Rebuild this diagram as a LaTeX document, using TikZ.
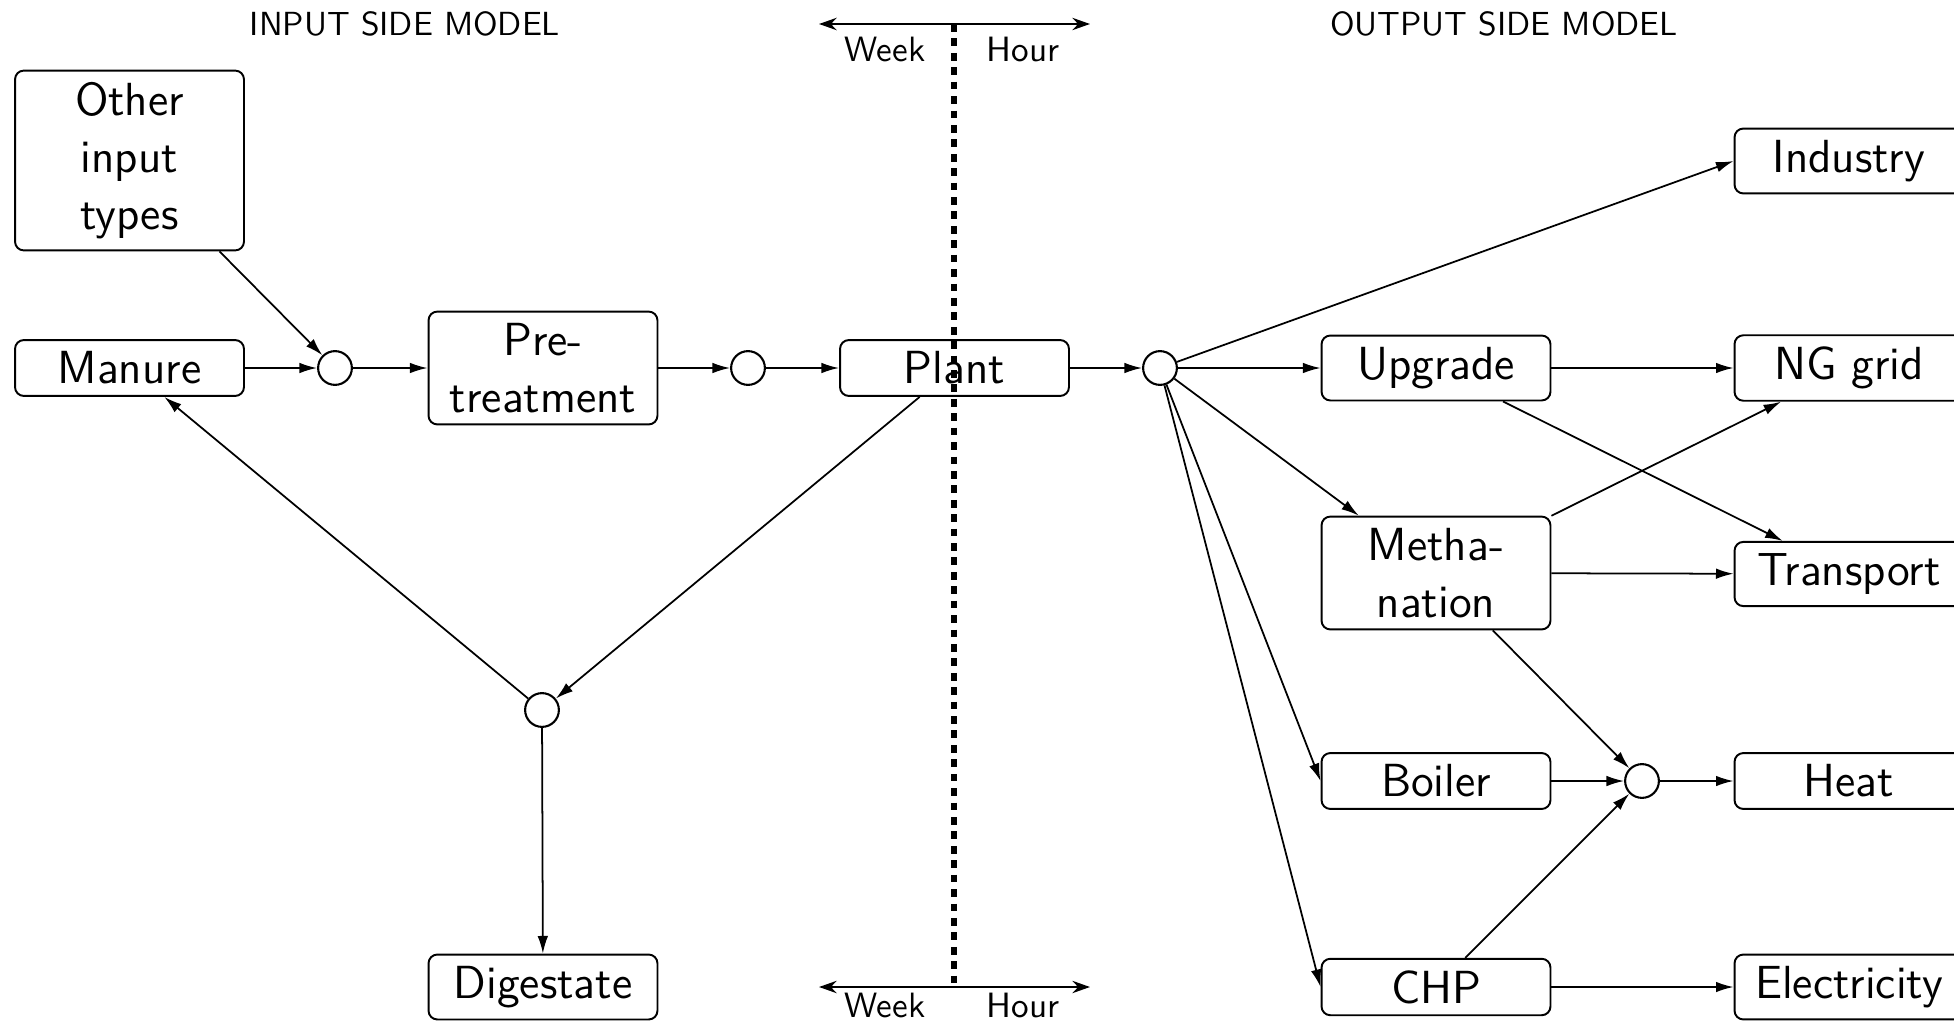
\documentclass[tikz,border=0pt]{standalone}
\usepackage{fontspec}
\usetikzlibrary{arrows.meta}
\begin{document}
\begin{tikzpicture}[x=0.01cm,y=-0.01cm,
  mainfont/.style={font=\sffamily\fontsize{13.2}{16.2}\selectfont},
  box/.style={draw,line width=0.55pt,rounded corners=2.5pt,minimum width=65.1pt,inner sep=3.3pt,align=center,mainfont},
  junction/.style={draw,circle,line width=0.6pt,minimum size=9.6pt,inner sep=0pt},
  conn/.style={line width=0.5pt,-{Latex[length=5pt,width=3pt]}},
  timearrow/.style={line width=0.6pt,{Stealth[length=5pt,width=3.5pt]}-{Stealth[length=5pt,width=3.5pt]}},
  divider/.style={line width=1.9pt,dash pattern=on 2.2pt off 1.9pt},
  smalllabel/.style={font=\sffamily\fontsize{10}{12}\selectfont,inner sep=0pt},
  header/.style={font=\sffamily\fontsize{9.5}{11}\selectfont,inner sep=0pt}]
\useasboundingbox (0,0) rectangle (1954,1021);
\clip (0,0) rectangle (1954,1021);

% headers
\node[header] (hin) at (405,24) {INPUT SIDE MODEL};
\node[header] (hout) at (1504,24) {OUTPUT SIDE MODEL};

% input side
\node[box] (other) at (129.5,160.5) {Other\\input\\types};
\node[box] (manure) at (129.5,368) {Manure};
\node[junction] (c1) at (335,368) {};
\node[box] (pre) at (543,368) {Pre-\\treatment};
\node[junction] (c2) at (748,368) {};
\node[box] (plant) at (954.5,368) {Plant};
\node[junction] (c5) at (542,710) {};
\node[box] (dig) at (543,987) {Digestate};

% output side
\node[junction] (c3) at (1160,368) {};
\node[box] (upg) at (1436,368) {Upgrade};
\node[box] (meth) at (1436,573) {Metha-\\nation};
\node[box] (boil) at (1436,781) {Boiler};
\node[box] (chp) at (1436,987) {CHP};
\node[junction] (c4) at (1642,781) {};
\node[box] (ind) at (1849,161) {Industry};
\node[box] (ng) at (1849,368) {NG grid};
\node[box] (trans) at (1849,574) {Transport};
\node[box] (heat) at (1849,781) {Heat};
\node[box] (elec) at (1849,987) {Electricity};

% connectors input side
\draw[conn] (other) -- (c1);
\draw[conn] (manure) -- (c1);
\draw[conn] (c1) -- (pre);
\draw[conn] (pre) -- (c2);
\draw[conn] (c2) -- (plant);
\draw[conn] (plant) -- (c5);
\draw[conn] (c5) -- (manure);
\draw[conn] (c5) -- (dig);

% connectors output side
\draw[conn] (plant) -- (c3);
\draw[conn] (c3) -- (ind.west);
\draw[conn] (c3) -- (upg);
\draw[conn] (c3) -- (meth);
\draw[conn] (c3) -- (boil.west);
\draw[conn] (c3) -- (chp.west);
\draw[conn] (upg) -- (ng);
\draw[conn] (upg) -- (trans);
\draw[conn] (meth) -- (ng);
\draw[conn] (meth) -- (trans);
\draw[conn] (meth) -- (c4);
\draw[conn] (boil) -- (c4);
\draw[conn] (chp) -- (c4);
\draw[conn] (c4) -- (heat);
\draw[conn] (chp) -- (elec);

% time scale divider
\coordinate (tl) at (819,24);
\coordinate (tr) at (1090,24);
\coordinate (bl) at (819,987);
\coordinate (br) at (1090,987);
\coordinate (dtop) at (954,24);
\coordinate (dbot) at (954,987);
\draw[timearrow] (tl) -- (tr);
\draw[timearrow] (bl) -- (br);
\draw[divider] (dtop) -- (dbot);
\node[smalllabel] (wk1) at (885,49) {Week};
\node[smalllabel] (hr1) at (1023,49) {Hour};
\node[smalllabel] (wk2) at (885,1005) {Week};
\node[smalllabel] (hr2) at (1023,1005) {Hour};
\end{tikzpicture}
\end{document}
